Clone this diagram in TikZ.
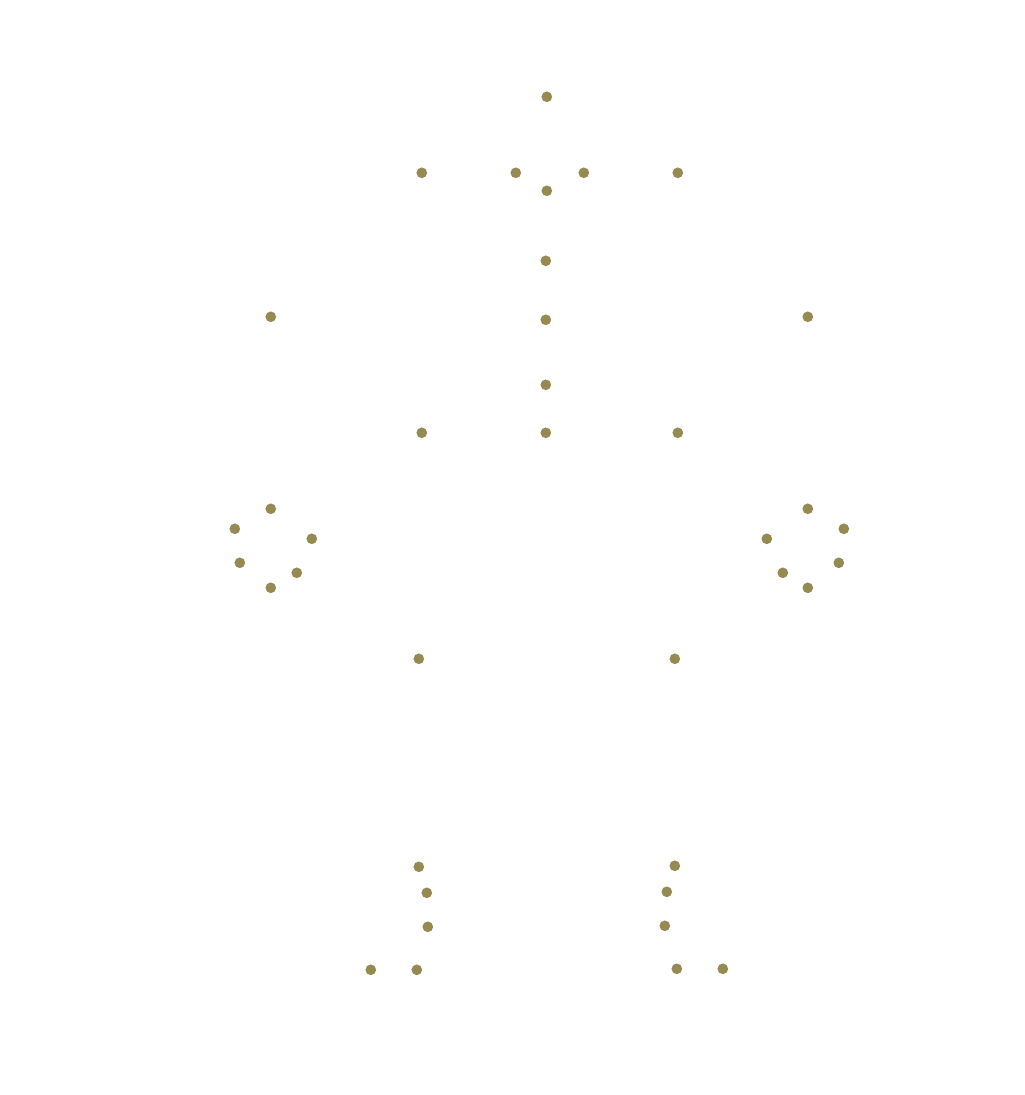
\documentclass[tikz,border=0pt]{standalone}
\definecolor{dotc}{RGB}{148,138,82}
\begin{document}
\begin{tikzpicture}[x=0.75pt,y=-0.75pt,
  kp/.style={circle,fill=dotc,draw=none,inner sep=0pt,minimum size=8pt}]
\useasboundingbox (0,0) rectangle (1024,1095);
\begin{scope}[shift={(0.8,0.8)}]
\foreach \n/\x/\y in {a1/546/96,a2/421/172,a3/515/172,a4/583/172,a5/677/172,a6/546/190,
  b1/545/260,b2/270/316,b3/545/319,b4/807/316,
  c1/545/384,c2/421/432,c3/545/432,c4/677/432,
  d1/270/508,d2/234/528,d3/311/538,d4/239/562,d5/296/572,d6/270/587,
  e1/807/508,e2/843/528,e3/766/538,e4/838/562,e5/782/572,e6/807/587,
  f1/418/658,f2/674/658,
  g1/418/866,g2/426/892,g3/427/926,g4/370/969,g5/416/969,
  h1/674/865,h2/666/891,h3/664/925,h4/676/968,h5/722/968}
  \node[kp] (\n) at (\x,\y) {};
\end{scope}
\end{tikzpicture}
\end{document}
